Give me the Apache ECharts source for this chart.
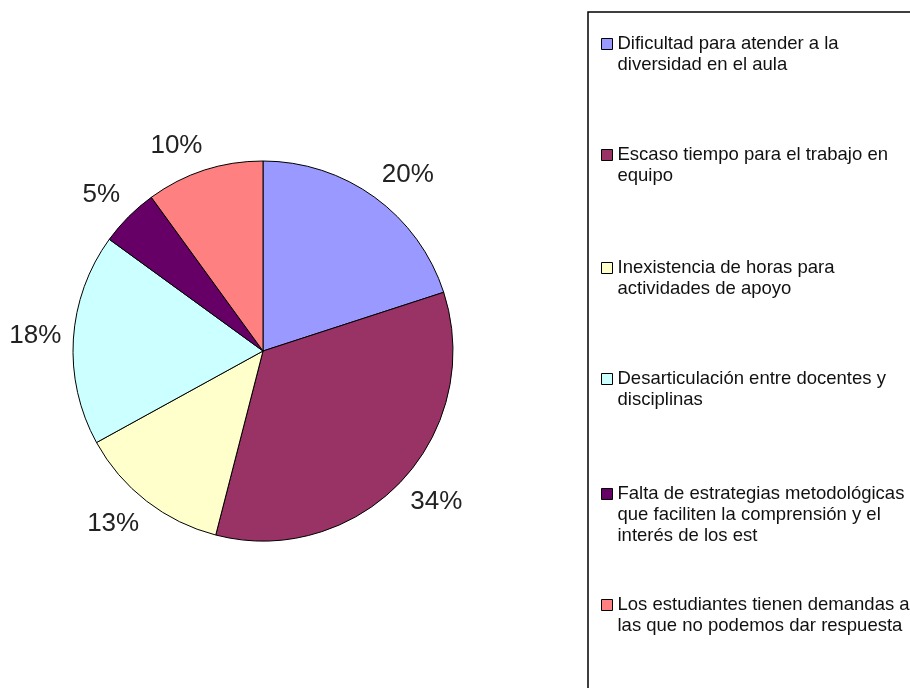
<!DOCTYPE html>
<html>
<head>
<meta charset="utf-8">
<script src="https://cdn.jsdelivr.net/npm/echarts@6/dist/echarts.min.js"></script>
<style>
html,body{margin:0;padding:0;background:#fff;}
#chart{width:910px;height:688px;}
</style>
</head>
<body>
<div id="chart"></div>
<script>
// Categories (full names)
var categories = [
  "Dificultad para atender a la diversidad en el aula",
  "Escaso tiempo para el trabajo en equipo",
  "Inexistencia de horas para actividades de apoyo",
  "Desarticulación entre docentes y disciplinas",
  "Falta de estrategias metodológicas que faciliten la comprensión y el interés de los est",
  "Los estudiantes tienen demandas a las que no podemos dar respuesta"
];
// Legend text as wrapped in the reference
var legendLines = [
  ["Dificultad para atender a la", "diversidad en el aula"],
  ["Escaso tiempo para el trabajo en", "equipo"],
  ["Inexistencia de horas para", "actividades de apoyo"],
  ["Desarticulación entre docentes y", "disciplinas"],
  ["Falta de estrategias metodológicas", "que faciliten la comprensión y el", "interés de los est"],
  ["Los estudiantes tienen demandas a", "las que no podemos dar respuesta"]
];
// Series values (percent)
var values = [20, 34, 13, 18, 5, 10];
var colors = ["#9999FF", "#993366", "#FFFFCC", "#CCFFFF", "#660066", "#FF8080"];

var FONT = "'Liberation Sans', Arial, sans-serif";
var LH = 21;
var legendFirstLine = [44, 155, 268, 379, 494, 605];

var chart = echarts.init(document.getElementById('chart'), null, {renderer: 'canvas'});

function clamp(v) { return Math.max(-1, Math.min(1, v)); }

var legends = categories.map(function (name, i) {
  var n = legendLines[i].length;
  return {
    data: [name],
    left: 601,
    top: legendFirstLine[i] - (2 * n - 1) * LH / 2,
    orient: 'vertical',
    padding: 0,
    icon: 'rect',
    itemWidth: 11,
    itemHeight: 11,
    selectedMode: false,
    itemStyle: {borderColor: '#000', borderWidth: 1},
    textStyle: {
      fontFamily: FONT,
      fontSize: 18.5,
      lineHeight: LH,
      color: '#111'
    },
    formatter: function (nm) {
      var lines = legendLines[categories.indexOf(nm)];
      var pre = '';
      for (var k = 1; k < lines.length; k++) pre += ' \n';
      return pre + lines.join('\n');
    }
  };
});

var option = {
  backgroundColor: '#fff',
  animation: false,
  color: colors,
  legend: legends,
  graphic: [{
    type: 'rect',
    shape: {x: 588, y: 12, width: 400, height: 800},
    style: {fill: 'none', stroke: '#000', lineWidth: 1.5},
    silent: true,
    z: -1
  }],
  series: [{
    type: 'pie',
    center: [263, 351],
    radius: 190,
    startAngle: 90,
    clockwise: true,
    avoidLabelOverlap: false,
    itemStyle: {borderColor: '#000', borderWidth: 1},
    emphasis: {disabled: true},
    label: {
      show: true,
      position: 'outside',
      formatter: '{c}%',
      fontFamily: FONT,
      fontSize: 26,
      color: '#222'
    },
    labelLine: {
      show: true,
      length: 10,
      length2: 0,
      lineStyle: {opacity: 0, width: 0}
    },
    labelLayout: function (p) {
      var pts = p.labelLinePoints;
      if (!pts || pts.length < 2) return {};
      var dx = pts[1][0] - pts[0][0], dy = pts[1][1] - pts[0][1];
      var len = Math.sqrt(dx * dx + dy * dy) || 1;
      dx /= len; dy /= len;
      var gap = 12;
      var w = p.labelRect.width, h = p.labelRect.height;
      var ax = pts[0][0] + dx * gap, ay = pts[0][1] + dy * gap;
      return {
        x: ax + clamp(dx * 3) * w / 2,
        y: ay + clamp(dy * 3) * h / 2,
        align: 'center',
        verticalAlign: 'middle'
      };
    },
    data: categories.map(function (c, i) { return {name: c, value: values[i]}; })
  }]
};
chart.setOption(option);
</script>
</body>
</html>
